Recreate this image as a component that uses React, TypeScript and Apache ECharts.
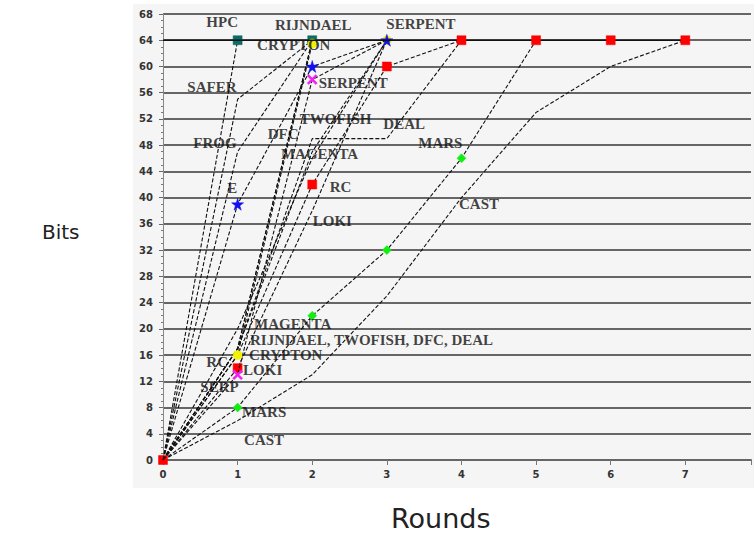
import React, { useEffect, useRef } from "react";
import * as echarts from "echarts";

// ---- data (bits affected after each round; index = round) ----
const xTicks = [0, 1, 2, 3, 4, 5, 6, 7];
const hpc = [0, 64];
const safer = [0, 55, 64];
const frog = [0, 47, 64];
const e2 = [0, 39, 60, 64];
const rijndael = [0, 17, 64];
const crypton = [0, 16, 63.5];
const twofish = [0, 17, 47, 64];
const dfc = [0, 17, 64];
const deal = [0, 17, 49, 49, 64];
const magenta = [0, 20, 46, 64];
const rc6 = [0, 16, 42, 60, 64];
const loki = [0, 14, 38, 64];
const serpent = [0, 13, 58, 64];
const mars = [0, 8, 22, 32, 46, 64];
const cast = [0, 6, 13, 25, 40, 53, 60, 64];
const fullDiffusion = [64, 64, 64, 64, 64, 64, 64, 64];

// annotation texts: [text, round, bits]
const labelTexts: [string, number, number][] = [
  ["HPC", 0.587, 66.7],
  ["RIJNDAEL", 1.507, 66.3],
  ["CRYPTON", 1.267, 63.2],
  ["SERPENT", 3.0, 66.4],
  ["SAFER", 0.333, 56.8],
  ["SERPENT", 2.093, 57.4],
  ["TWOFISH", 1.84, 51.9],
  ["DEAL", 2.96, 51.2],
  ["DFC", 1.41, 49.6],
  ["FROG", 0.413, 48.3],
  ["MAGENTA", 1.587, 46.6],
  ["MARS", 3.427, 48.3],
  ["E", 0.867, 41.4],
  ["RC", 2.24, 41.6],
  ["LOKI", 2.013, 36.3],
  ["CAST", 3.973, 38.9],
  ["MAGENTA", 1.227, 20.6],
  ["RIJNDAEL, TWOFISH, DFC, DEAL", 1.173, 18.2],
  ["CRYPTON", 1.16, 15.9],
  ["RC", 0.587, 14.8],
  ["LOKI", 1.08, 13.6],
  ["SERP", 0.507, 11.0],
  ["MARS", 1.067, 7.3],
  ["CAST", 1.093, 2.9],
];

const STAR =
  "path://M50,0 L61,35 L98,35 L68,57 L79,91 L50,70 L21,91 L32,57 L2,35 L39,35 Z";
const CROSS =
  "path://M0,15 L15,0 L50,35 L85,0 L100,15 L65,50 L100,85 L85,100 L50,65 L15,100 L0,85 L35,50 Z";

type Mk = { symbol: string; color: string; size: number };
const teal: Mk = { symbol: "rect", color: "#0b6b66", size: 9 };
const yellow: Mk = { symbol: "circle", color: "#f2f200", size: 9 };
const blue: Mk = { symbol: STAR, color: "#1010ee", size: 12 };
const pink: Mk = { symbol: CROSS, color: "#ee22ee", size: 10 };
const red: Mk = { symbol: "rect", color: "#ff0000", size: 9 };
const green: Mk = { symbol: "diamond", color: "#11ee11", size: 9 };

type S = { name: string; values: number[]; marks: Record<number, Mk>; solid?: boolean };
const seriesDefs: S[] = [
  { name: "CAST", values: cast, marks: {} },
  { name: "MARS", values: mars, marks: { 1: green, 2: green, 3: green, 4: green } },
  { name: "DEAL", values: deal, marks: {} },
  { name: "TWOFISH", values: twofish, marks: {} },
  { name: "DFC", values: dfc, marks: {} },
  { name: "MAGENTA", values: magenta, marks: {} },
  { name: "FROG", values: frog, marks: {} },
  { name: "SAFER", values: safer, marks: {} },
  { name: "HPC", values: hpc, marks: { 1: teal } },
  { name: "RIJNDAEL", values: rijndael, marks: { 2: teal } },
  { name: "LOKI", values: loki, marks: { 0: red, 1: red } },
  { name: "RC6", values: rc6, marks: { 2: red, 3: red } },
  { name: "SERPENT", values: serpent, marks: { 1: pink, 2: pink, 3: yellow } },
  { name: "CRYPTON", values: crypton, marks: { 1: yellow, 2: yellow } },
  { name: "E2", values: e2, marks: { 1: blue, 2: blue, 3: blue } },
  { name: "FULL", values: fullDiffusion, marks: { 4: red, 5: red, 6: red, 7: red }, solid: true },
];

export default function App() {
  const ref = useRef<HTMLDivElement>(null);
  useEffect(() => {
    if (!ref.current) return;
    const chart = echarts.init(ref.current, undefined, { renderer: "svg" });
    const lineSeries = seriesDefs.map((s, k) => ({
      type: "line",
      name: s.name,
      z: s.solid ? 3 : 2 + k * 0.01,
      showSymbol: true,
      symbol: "none",
      lineStyle: s.solid
        ? { color: "#111", width: 1.6, type: "solid" }
        : { color: "#111", width: 1.1, type: [4, 2] },
      data: s.values.map((v, i) => {
        const m = s.marks[i];
        return m
          ? {
              value: [xTicks[i], v],
              symbol: m.symbol,
              symbolSize: m.size,
              itemStyle: { color: m.color, borderColor: m.color, borderWidth: 0.5 },
            }
          : { value: [xTicks[i], v], symbol: "none" };
      }),
    }));
    chart.setOption({
      animation: false,
      backgroundColor: "#ffffff",
      graphic: [
        {
          type: "rect",
          z: -10,
          silent: true,
          shape: { x: 133, y: 4, width: 621, height: 484 },
          style: { fill: "#f5f5f5" },
        },
        {
          type: "text",
          left: 42,
          top: 222,
          style: { text: "Bits", font: "20px 'DejaVu Sans'", fill: "#222" },
        },
        {
          type: "text",
          left: 391,
          top: 505,
          style: { text: "Rounds", font: "27px 'DejaVu Sans'", fill: "#222" },
        },
      ],
      grid: { left: 163, right: 0, top: 14, bottom: 81 },
      xAxis: {
        type: "value",
        min: 0,
        max: 7.88,
        interval: 1,
        splitLine: { show: false },
        axisLine: { show: true, lineStyle: { color: "#666", width: 2 } },
        axisTick: { show: true, length: 5, lineStyle: { color: "#777" } },
        axisLabel: {
          margin: 9,
          color: "#333",
          fontFamily: "DejaVu Sans",
          fontWeight: "bold",
          fontSize: 10,
          formatter: (v: number) => (Number.isInteger(v) ? String(v) : ""),
        },
      },
      yAxis: {
        type: "value",
        min: 0,
        max: 68,
        interval: 4,
        splitLine: { show: true, lineStyle: { color: "#666", width: 2 } },
        axisLine: { show: true, lineStyle: { color: "#888", width: 1 } },
        axisTick: { show: true, length: 4, lineStyle: { color: "#666" } },
        minorTick: { show: true, splitNumber: 4, length: 2, lineStyle: { color: "#777" } },
        axisLabel: {
          margin: 10,
          color: "#333",
          fontFamily: "DejaVu Sans",
          fontWeight: "bold",
          fontSize: 10,
        },
      },
      series: [
        ...lineSeries,
        {
          type: "scatter",
          z: 10,
          symbolSize: 1,
          itemStyle: { color: "rgba(0,0,0,0)" },
          silent: true,
          label: {
            show: true,
            position: [0, 0],
            align: "left",
            verticalAlign: "middle",
            formatter: (p: any) => p.data.name,
            fontFamily: "Liberation Serif",
            fontWeight: "bold",
            fontSize: 15,
            color: "#111",
          },
          data: labelTexts.map(([t, x, y]) => ({ name: t, value: [x, y] })),
        },
      ],
    });
    return () => chart.dispose();
  }, []);
  return (
    <div
      ref={ref}
      style={{ position: "fixed", left: 0, top: 0, width: 754, height: 541 }}
    />
  );
}
